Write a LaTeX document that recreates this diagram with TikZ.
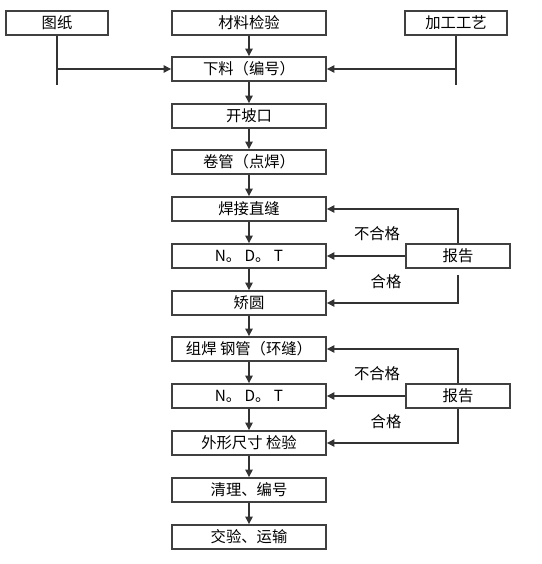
\documentclass[tikz,border=0pt]{standalone}
\usepackage{fontspec}
\newfontfamily\cjk{Noto Sans CJK SC}
\usetikzlibrary{arrows.meta}
\usetikzlibrary{calc}

\begin{document}
\begin{tikzpicture}[x=0.75pt,y=-0.75pt,font=\cjk\fontsize{11.5}{12}\selectfont,
	box/.style={draw=black!75,line width=1.4pt,minimum width=115.5pt,minimum height=18pt,inner sep=0pt},
	sbox/.style={box,minimum width=77pt},
	rbox/.style={box,minimum width=78.5pt},
	ln/.style={draw=black!80,line width=0.9pt},
	arr/.style={ln,-{Triangle[length=5.5pt,width=5.5pt]}}]
	\useasboundingbox (0,0) rectangle (542,564);
	% top row
	\node[sbox] (tz) at (57,23) {图纸};
	\node[box] (cl) at (249,23) {材料检验};
	\node[sbox] (gy) at (456,23) {加工工艺};
	% main column
	\foreach \name/\y/\label in {xl/69/下料（编号）, pk/116/开坡口, jg/162/卷管（点焊）, hz/209/焊接直缝, ndt1/256/N。\ D。\ T, jy/303/矫圆, zh/349/组焊\ 钢管（环缝）, ndt2/396/N。\ D。\ T, wx/443/外形尺寸\ 检验, ql/490/清理、编号, jyys/537/交验、运输} {
		\node[box] (\name) at (249,\y) {\label};
	}
	\foreach \a/\b in {cl/xl, xl/pk, pk/jg, jg/hz, hz/ndt1, ndt1/jy, jy/zh, zh/ndt2, ndt2/wx, wx/ql, ql/jyys} {
		\draw[arr] (\a) -- (\b);
	}
	% side inputs
	\draw[ln] (tz.south) -- ++(0,49);
	\draw[arr] (tz.south |- xl.west) -- (xl.west);
	\draw[ln] (gy.south) -- ++(0,49);
	\draw[arr] (gy.south |- xl.east) -- (xl.east);
	% reports
	\node[rbox] (bg1) at (458,256) {报告};
	\node[rbox] (bg2) at (458,396) {报告};
	\draw[arr] (bg1.north) |- (hz.east);
	\draw[arr] (bg1.west) -- (ndt1.east);
	\draw[arr] ($(bg1.south)+(0,6)$) |- (jy.east);
	\draw[arr] (bg2.north) |- (zh.east);
	\draw[arr] (bg2.west) -- (ndt2.east);
	\draw[arr] (bg2.south) |- (wx.east);
	\node (bhg1) at (377,234) {不合格};
	\node (hg1) at (386,282) {合格};
	\node (bhg2) at (377,374) {不合格};
	\node (hg2) at (386,422) {合格};
\end{tikzpicture}
\end{document}
